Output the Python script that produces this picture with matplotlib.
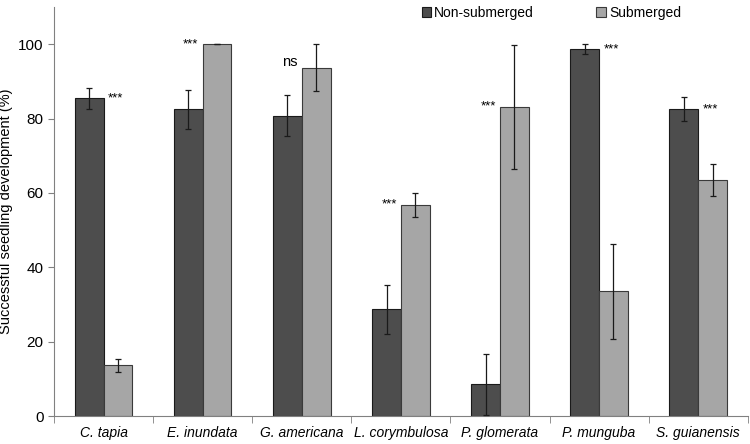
import numpy as np
import matplotlib.pyplot as plt

species = ["C. tapia", "E. inundata", "G. americana", "L. corymbulosa",
           "P. glomerata", "P. munguba", "S. guianensis"]
non_sub = [85.5, 82.5, 80.8, 28.7, 8.5, 98.7, 82.6]
non_sub_err = [2.8, 5.2, 5.6, 6.6, 8.2, 1.3, 3.2]
sub = [13.6, 100.0, 93.7, 56.8, 83.2, 33.5, 63.6]
sub_err = [1.8, 0.0, 6.3, 3.3, 16.7, 12.9, 4.3]
signif = ["***", "***", "ns", "***", "***", "***", "***"]

plt.rcParams["font.family"] = ["Liberation Sans", "DejaVu Sans"]

fig = plt.figure(figsize=(7.5, 4.44), dpi=100)
ax = fig.add_axes([0.072, 0.063, 0.925, 0.921])

x = np.arange(len(species))
w = 0.29
ax.bar(x - w / 2, non_sub, w, color="#4d4d4d", edgecolor="#1a1a1a", linewidth=0.8,
       label="Non-submerged", zorder=2)
ax.bar(x + w / 2, sub, w, color="#a6a6a6", edgecolor="#3a3a3a", linewidth=0.8,
       label="Submerged", zorder=2)
ax.errorbar(x - w / 2, non_sub, yerr=non_sub_err, fmt="none", ecolor="#1a1a1a",
            elinewidth=0.9, capsize=2.5, capthick=0.9, zorder=3)
ax.errorbar(x + w / 2, sub, yerr=sub_err, fmt="none", ecolor="#1a1a1a",
            elinewidth=0.9, capsize=2.5, capthick=0.9, zorder=3)

# significance marks sit beside the taller bar, over the shorter one
for i, s in enumerate(signif):
    top = max(non_sub[i], sub[i])
    if non_sub[i] >= sub[i]:
        ax.annotate(s, xy=(x[i], top), xytext=(3, 0), textcoords="offset points",
                    ha="left", va="center", fontsize=9.5)
    else:
        ax.annotate(s, xy=(x[i], top), xytext=(-3, 0 if s == "***" else 4),
                    textcoords="offset points", ha="right", va="center",
                    fontsize=9.5 if s == "***" else 10.5)

ax.set_xlim(-0.5, len(species) - 0.5)
ax.set_ylim(0, 110)
ax.set_yticks(np.arange(0, 101, 20))
ax.set_xticks(x)
ax.set_xticklabels(species, style="italic", fontsize=10)
ax.tick_params(axis="x", which="major", length=0, pad=7)
ax.set_xticks(np.arange(-0.5, len(species), 1), minor=True)
ax.tick_params(axis="x", which="minor", length=5, color="#808080", direction="out")
ax.tick_params(axis="y", labelsize=11, length=4, color="#808080")
ax.set_ylabel("Successful seedling development (%)", fontsize=10.5, labelpad=4)
ax.spines[["top", "right"]].set_visible(False)
ax.spines[["left", "bottom"]].set_color("#808080")

fig.legend(loc="upper center", bbox_to_anchor=(0.735, 1.015), ncol=2, frameon=False,
           fontsize=10, handlelength=0.7, handleheight=0.7, handletextpad=0.2,
           columnspacing=4.5)

fig.savefig("out.png", dpi=100)
